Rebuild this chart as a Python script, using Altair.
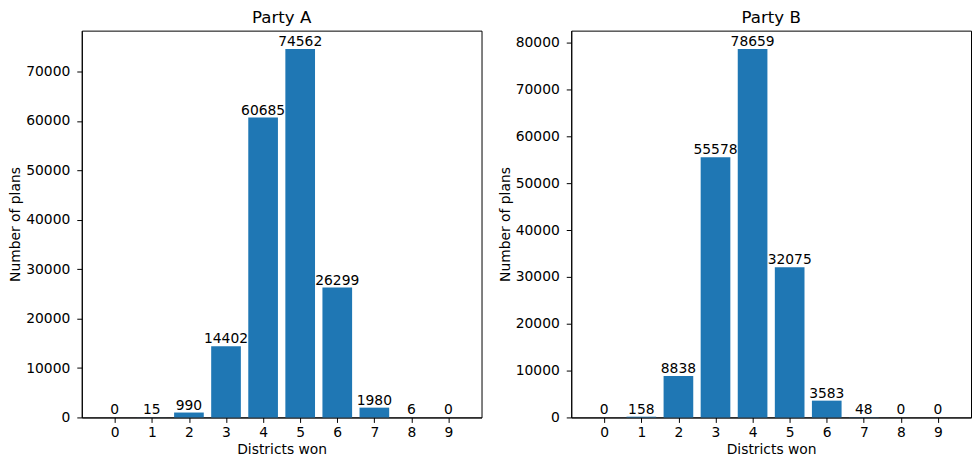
import altair as alt
import pandas as pd

# ---- data ----
districts = [0, 1, 2, 3, 4, 5, 6, 7, 8, 9]
party_a = [0, 15, 990, 14402, 60685, 74562, 26299, 1980, 6, 0]
party_b = [0, 158, 8838, 55578, 78659, 32075, 3583, 48, 0, 0]
titles = ["Party A", "Party B"]
y_ticks_a = [0, 10000, 20000, 30000, 40000, 50000, 60000, 70000]
y_ticks_b = [0, 10000, 20000, 30000, 40000, 50000, 60000, 70000, 80000]
x_title = "Districts won"
y_title = "Number of plans"

BAR_COLOR = "#1f77b4"
FONT = "DejaVu Sans"
FS = 13.9
BAR_W = 0.8
PLOT_W = 401
PLOT_H = 388


def panel(values, title, yticks):
    df = pd.DataFrame({"d": districts, "n": values})
    ymax = max(values) * 1.05
    span = (districts[-1] + BAR_W / 2) - (districts[0] - BAR_W / 2)
    xlo = districts[0] - BAR_W / 2 - 0.05 * span
    xhi = districts[-1] + BAR_W / 2 + 0.05 * span
    base = alt.Chart(df).transform_calculate(
        lo=f"datum.d - {BAR_W / 2}", hi=f"datum.d + {BAR_W / 2}"
    )
    xs = alt.Scale(domain=[xlo, xhi], nice=False, zero=False)
    ys = alt.Scale(domain=[0, ymax], nice=False)
    bars = base.mark_rect(color=BAR_COLOR).encode(
        x=alt.X("lo:Q", scale=xs, title=x_title,
                axis=alt.Axis(values=districts, format="d")),
        x2="hi:Q",
        y=alt.Y("n:Q", scale=ys, title=y_title,
                axis=alt.Axis(values=yticks, format="d")),
        y2=alt.datum(0),
    )
    labels = base.mark_text(baseline="bottom", font=FONT, fontSize=FS,
                            color="black").encode(
        x=alt.X("d:Q", scale=xs),
        y=alt.Y("n:Q", scale=ys),
        text=alt.Text("n:Q", format="d"),
    )
    return alt.layer(bars, labels).properties(
        width=PLOT_W, height=PLOT_H, title=title
    )


chart = alt.hconcat(
    panel(party_a, titles[0], y_ticks_a),
    panel(party_b, titles[1], y_ticks_b),
    spacing=15,
).properties(
    padding={"left": 0, "top": 0, "right": 0, "bottom": 0},
    background="white",
).configure_view(
    stroke="black", strokeWidth=1
).configure_axis(
    grid=False,
    labelFont=FONT, labelFontSize=FS, labelColor="black",
    titleFont=FONT, titleFontSize=FS, titleFontWeight="normal", titleColor="black",
    tickColor="black", tickSize=5, tickWidth=1,
    domainColor="black",
).configure_axisY(
    titlePadding=3, labelPadding=7
).configure_axisX(
    titlePadding=3, labelPadding=3
).configure_title(
    font=FONT, fontSize=16.7, fontWeight="normal", color="black", offset=0,
    frame="group", anchor="middle"
)

chart.save("out.html", embed_options={"renderer": "svg", "actions": False})
